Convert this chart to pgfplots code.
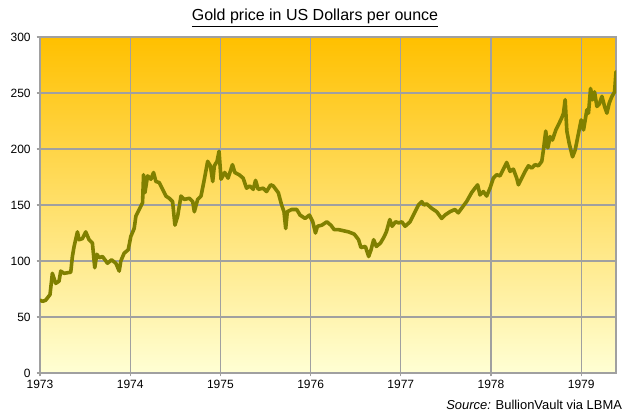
\documentclass[border=0pt]{standalone}
\usepackage{pgfplots}
\pgfplotsset{compat=1.18}
\usepackage{fontspec}
\setmainfont{Liberation Sans}

\definecolor{goldline}{RGB}{128,128,0}
\definecolor{gridgray}{RGB}{160,160,160}
\definecolor{bgtop}{RGB}{255,192,0}
\definecolor{bgmid}{RGB}{255,250,150}
\definecolor{bgbot}{RGB}{255,255,212}

\begin{document}
\begin{tikzpicture}
	\begin{axis}[
		name=ax,
		set layers,
		scale only axis,
		width=432pt,
		height=252pt,
		xmin=1973, xmax=1979.386,
		ymin=0, ymax=300,
		xtick={1973,1974,1975,1976,1977,1978,1979},
		ytick={0,50,100,150,200,250,300},
		/pgf/number format/1000 sep={},
		/pgf/number format/assume math mode=true,
		ticklabel style={font=\fontsize{9pt}{10pt}\selectfont, text=black},
		xtick pos=bottom, ytick pos=left,
		tick align=outside,
		major tick length=2.5pt,
		tick style={gridgray, line width=0.8pt},
		xticklabel style={yshift=1pt},
		yticklabel style={xshift=-1pt},
		grid=major,
		grid style={gridgray, line width=0.8pt},
		axis line style={gridgray, line width=0.8pt},
		axis background/.style={shade, top color=bgtop, middle color=bgmid, bottom color=bgbot},
		]
		% daily gold fix
		\addplot[goldline, line width=2.7pt, line join=round, line cap=round] coordinates {
			(1973.000,65) (1973.030,64) (1973.063,65) (1973.111,70) (1973.137,89)
			(1973.174,80) (1973.211,82) (1973.230,91) (1973.267,89) (1973.341,90)
			(1973.359,104) (1973.378,113) (1973.415,126) (1973.433,119) (1973.470,120)
			(1973.507,126) (1973.544,119) (1973.581,116) (1973.607,94) (1973.630,106)
			(1973.656,103) (1973.693,104) (1973.748,98) (1973.793,101) (1973.841,98)
			(1973.878,91) (1973.896,100) (1973.933,107) (1973.978,110) (1974.007,122)
			(1974.044,129) (1974.063,140) (1974.100,146) (1974.137,152) (1974.148,177)
			(1974.163,161) (1974.193,176) (1974.230,173) (1974.259,179) (1974.285,171)
			(1974.322,170) (1974.359,164) (1974.396,158) (1974.433,156) (1974.470,153)
			(1974.496,132) (1974.526,140) (1974.563,158) (1974.600,155) (1974.656,156)
			(1974.693,153) (1974.711,144) (1974.748,155) (1974.785,158) (1974.815,170)
			(1974.859,189) (1974.889,185) (1974.915,171) (1974.933,185) (1974.963,189)
			(1974.985,198) (1975.007,173) (1975.048,179) (1975.085,174) (1975.134,186)
			(1975.160,179) (1975.208,177) (1975.252,174) (1975.290,165) (1975.327,167)
			(1975.364,164) (1975.390,172) (1975.419,164) (1975.475,165) (1975.512,162)
			(1975.557,168) (1975.586,167) (1975.642,161) (1975.679,150) (1975.705,144)
			(1975.724,129) (1975.742,144) (1975.790,146) (1975.846,146) (1975.883,141)
			(1975.939,138) (1975.987,141) (1976.024,135) (1976.054,125) (1976.076,131)
			(1976.124,132) (1976.180,135) (1976.224,132) (1976.262,128) (1976.310,128)
			(1976.365,127) (1976.421,126) (1976.484,124) (1976.532,119) (1976.558,112)
			(1976.607,113) (1976.644,104) (1976.670,110) (1976.699,119) (1976.729,113)
			(1976.774,116) (1976.811,121) (1976.840,126) (1976.878,137) (1976.904,131)
			(1976.941,135) (1976.978,134) (1977.011,135) (1977.048,131) (1977.103,135)
			(1977.158,144) (1977.195,150) (1977.232,153) (1977.258,150) (1977.287,151)
			(1977.343,147) (1977.398,144) (1977.453,138) (1977.490,141) (1977.545,144)
			(1977.600,146) (1977.637,143) (1977.692,149) (1977.729,153) (1977.785,161)
			(1977.822,165) (1977.852,168) (1977.878,159) (1977.915,162) (1977.952,158)
			(1977.989,165) (1978.026,174) (1978.063,177) (1978.100,176) (1978.137,182)
			(1978.174,188) (1978.211,180) (1978.248,182) (1978.285,174) (1978.304,168)
			(1978.341,174) (1978.378,180) (1978.415,185) (1978.452,183) (1978.489,186)
			(1978.526,185) (1978.563,189) (1978.581,199) (1978.607,216) (1978.630,201)
			(1978.656,211) (1978.681,208) (1978.719,217) (1978.756,223) (1978.785,228)
			(1978.804,232) (1978.822,244) (1978.841,216) (1978.867,205) (1978.904,193)
			(1978.933,199) (1978.970,214) (1979.000,226) (1979.026,217) (1979.063,235)
			(1979.081,232) (1979.104,254) (1979.126,244) (1979.148,251) (1979.174,238)
			(1979.200,240) (1979.230,247) (1979.259,238) (1979.285,232) (1979.311,241)
			(1979.341,247) (1979.370,251) (1979.386,269)
		};
	\end{axis}
	% title and source line
	\node[font=\fontsize{12pt}{14pt}\selectfont] at ([xshift=206.25pt,yshift=266.25pt]ax.south west)
		{\underline{Gold price in US Dollars per ounce}};
	\node[anchor=east, font=\fontsize{9.7pt}{11pt}\selectfont] at ([xshift=440pt,yshift=-24pt]ax.south west)
		{\textit{Source:} BullionVault via LBMA};
	\path[use as bounding box] ([xshift=-30pt,yshift=-33pt]ax.south west) rectangle ([xshift=10.5pt,yshift=27.75pt]ax.north east);
\end{tikzpicture}
\end{document}
